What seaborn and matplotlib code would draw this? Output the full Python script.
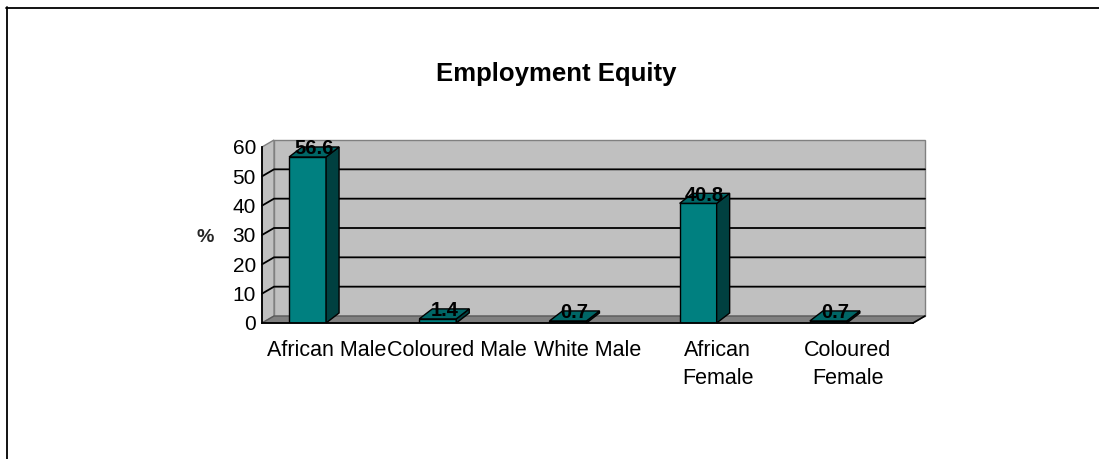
import matplotlib
matplotlib.use("Agg")
import matplotlib.pyplot as plt
from matplotlib.patches import Polygon, Rectangle
from matplotlib.lines import Line2D
import pandas as pd
import seaborn as sns

# --- data -------------------------------------------------------------
categories = ["African Male", "Coloured Male", "White Male",
              "African Female", "Coloured Female"]
tick_labels = ["African Male", "Coloured Male", "White Male",
               "African\nFemale", "Coloured\nFemale"]
percentages = [56.6, 1.4, 0.7, 40.8, 0.7]
y_ticks = [0, 10, 20, 30, 40, 50, 60]

# --- style ------------------------------------------------------------
sns.set_theme(style="white")
plt.rcParams["font.family"] = ["Liberation Sans", "DejaVu Sans"]

FACE = "#008080"
SIDE = "#004040"
TOP = "#006666"
WALL = "#C0C0C0"
FLOOR = "#808080"
EDGE_GRAY = "#808080"

W, H, DPI = 1099, 459, 100
fig = plt.figure(figsize=(W / DPI, H / DPI), dpi=DPI)

# plot frame (front plane of the 3-D box), in pixels
AX_L, AX_T, AX_W, AX_H = 262, 147, 651, 176
ax = fig.add_axes([AX_L / W, (H - AX_T - AX_H) / H, AX_W / W, AX_H / H])

df = pd.DataFrame({"group": categories, "pct": percentages})
BAR_W = 0.284
sns.barplot(data=df, x="group", y="pct", color=FACE, saturation=1,
            width=BAR_W, edgecolor="black", linewidth=1.0, ax=ax, zorder=3)

# bars sit slightly forward-left of the category centre in the 3-D view
SHIFT = 0.15
x0, x1 = -0.5 + SHIFT, len(categories) - 0.5 + SHIFT
y0, y1 = y_ticks[0], y_ticks[-1]
ax.set_xlim(x0, x1)
ax.set_ylim(y0, y1)

# pixel depth offsets converted to data units
px_x = AX_W / (x1 - x0)
px_y = AX_H / (y1 - y0)
wdx, wdy = 12 / px_x, 7 / px_y      # walls / floor depth
bdx, bdy = 13 / px_x, 10 / px_y     # bar depth

# back wall, side wall and floor
ax.add_patch(Rectangle((x0 + wdx, y0 + wdy), x1 - x0, y1 - y0,
                       facecolor=WALL, edgecolor=EDGE_GRAY, lw=1.0,
                       clip_on=False, zorder=0.5))
ax.add_patch(Polygon([(x0, y0), (x0, y1), (x0 + wdx, y1 + wdy), (x0 + wdx, y0 + wdy)],
                     facecolor=WALL, edgecolor=EDGE_GRAY, lw=1.0,
                     clip_on=False, zorder=0.6))
ax.add_patch(Polygon([(x0, y0), (x1, y0), (x1 + wdx, y0 + wdy), (x0 + wdx, y0 + wdy)],
                     facecolor=FLOOR, edgecolor="#5a5a5a", lw=1.0,
                     clip_on=False, zorder=0.7))

# gridlines wrap from the side wall onto the back wall
for v in y_ticks[1:-1]:
    ax.add_line(Line2D([x0, x0 + wdx, x1 + wdx], [v, v + wdy, v + wdy],
                       color="black", lw=1.3, clip_on=False, zorder=1))

# right end of the floor edge
ax.add_line(Line2D([x1, x1 + wdx], [y0, y0 + wdy], color="black", lw=1.2,
                   clip_on=False, zorder=2))

# side and top faces of each column, plus value labels
for i, v in enumerate(percentages):
    left, right = i - BAR_W / 2, i + BAR_W / 2
    ax.add_patch(Polygon([(right, 0), (right, v), (right + bdx, v + bdy), (right + bdx, bdy)],
                         facecolor=SIDE, edgecolor="black", lw=1.0,
                         clip_on=False, zorder=3))
    ax.add_patch(Polygon([(left, v), (right, v), (right + bdx, v + bdy), (left + bdx, v + bdy)],
                         facecolor=TOP, edgecolor="black", lw=1.0,
                         clip_on=False, zorder=3))
    ax.text(i + bdx / 2, v + bdy - 0.6, f"{v:.1f}", ha="center", va="center",
            fontsize=14.5, fontweight="bold", color="black", zorder=5)

# axes lines and ticks
for side in ("top", "right"):
    ax.spines[side].set_visible(False)
for side in ("left", "bottom"):
    ax.spines[side].set_color("black")
    ax.spines[side].set_linewidth(1.3)
    ax.spines[side].set_zorder(4)

ax.set_yticks(y_ticks)
ax.set_yticklabels([str(t) for t in y_ticks])
ax.tick_params(axis="y", direction="out", length=3.8, width=1.0, pad=0.5,
               labelsize=15, colors="black")

boundaries = [i - 0.5 + SHIFT for i in range(len(categories) + 1)]
centers = [i + SHIFT for i in range(len(categories))]
ax.set_xticks(boundaries)
ax.set_xticklabels([""] * len(boundaries))
ax.set_xticks(centers, minor=True)
ax.set_xticklabels(tick_labels, minor=True, linespacing=1.45)
ax.tick_params(axis="x", which="major", direction="out", length=5, width=1.0,
               colors="black")
ax.tick_params(axis="x", which="minor", length=0, pad=12, labelsize=15.5,
               colors="black")

ax.set_xlabel("")
ax.set_ylabel("%", rotation=0, fontsize=14, fontweight="bold",
              ha="center", va="center")
ax.yaxis.set_label_coords(-0.088, 0.483)
ax.set_facecolor("none")

fig.text(556 / W, 1 - 81.5 / H, "Employment Equity", ha="center", va="baseline",
         fontsize=18.5, fontweight="bold", color="black")

# outer frame (top and left edges)
fig.add_artist(Line2D([6 / W, 1.0], [1 - 7.5 / H, 1 - 7.5 / H],
                      transform=fig.transFigure, color="black", lw=1.3))
fig.add_artist(Line2D([6.5 / W, 6.5 / W], [0, 1 - 7 / H],
                      transform=fig.transFigure, color="black", lw=1.3))

fig.savefig("out.png", dpi=DPI, facecolor="white")
